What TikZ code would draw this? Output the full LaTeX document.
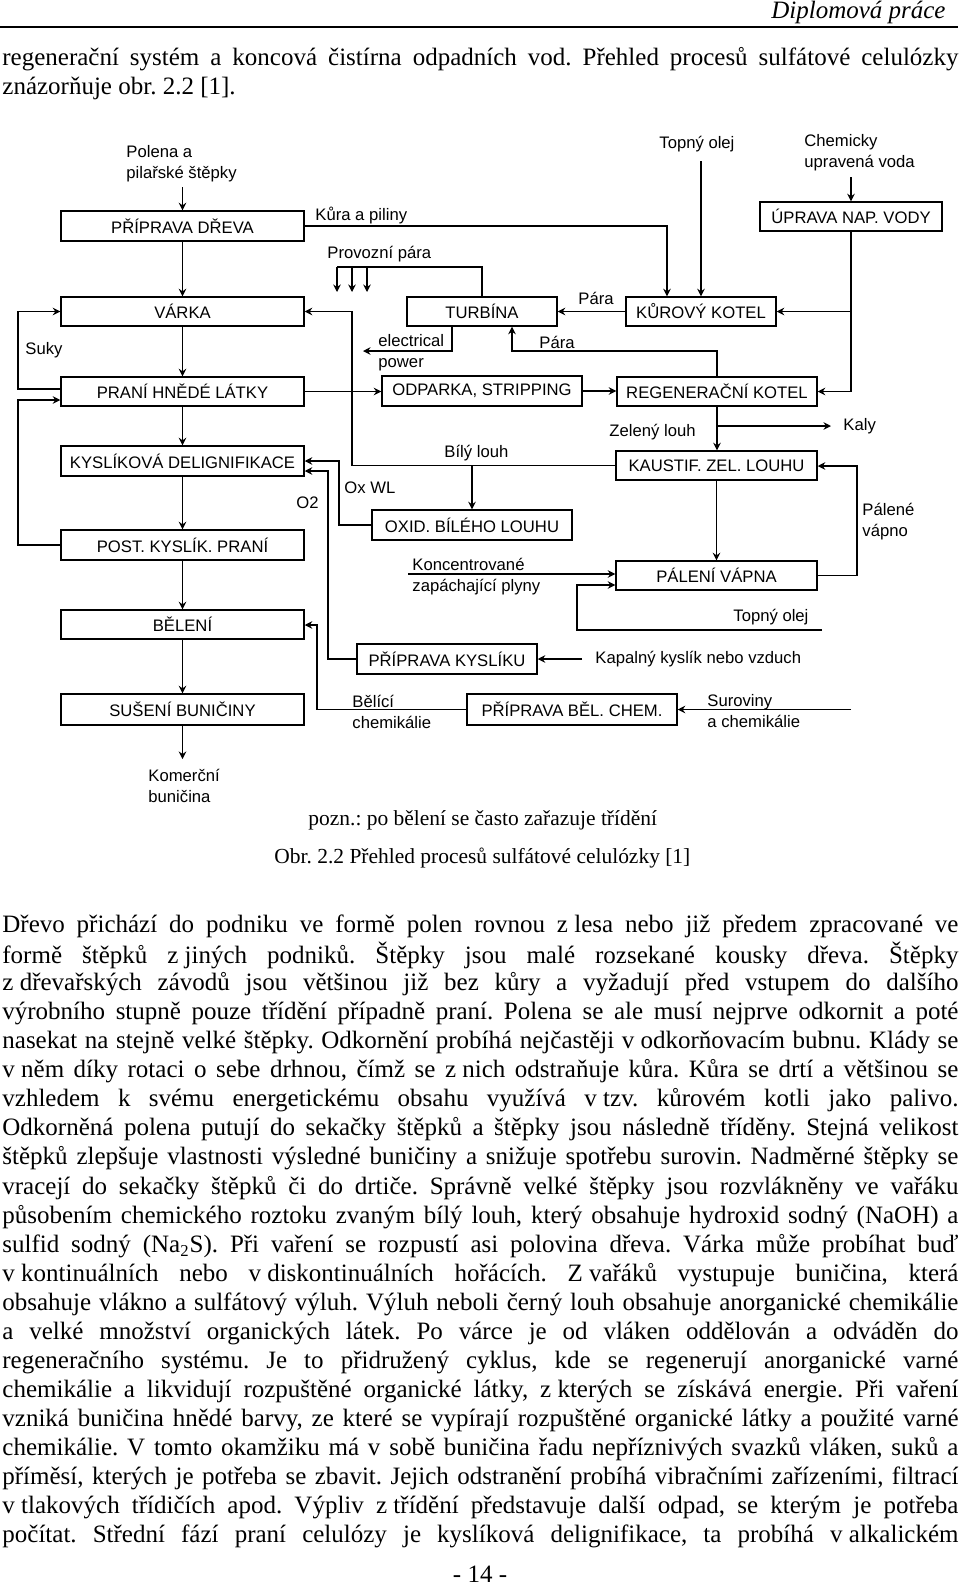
\documentclass[tikz,border=0pt]{standalone}
\usepackage{fontspec}
\setmainfont{Liberation Serif}
\newfontfamily\arialf{Liberation Sans}
\usetikzlibrary{arrows.meta,calc}
\newlength\lnw \setlength\lnw{458.9pt}
\newsavebox\lnbox
\newcommand\jl[1]{\sbox\lnbox{#1}\ifdim\wd\lnbox>\lnw\relax\resizebox{\lnw}{\height}{\usebox\lnbox}\else\makebox[\lnw][s]{#1}\fi}
\newcommand\zsp{\kern0.25em\relax}
\newcommand\dg{\arialf\fontsize{8}{10.1}\selectfont}
\newcommand\bd{\fontsize{12}{14}\selectfont\frenchspacing}
\newcommand\cp{\fontsize{10.3}{12}\selectfont\frenchspacing}
\newcommand\mkbox[6]{\node[bx, minimum width={(#4-#2)*0.48pt}, minimum height={(#5-#3)*0.48pt}] (#1) at ({(#2+#4)/2},{(#3+#5)/2}) {#6};}
\tikzset{
 bx/.style={draw, line width=0.7pt, inner sep=0pt, font=\dg},
 lb/.style={anchor=west, inner sep=0pt, font=\dg, align=left},
 bl/.style={anchor=west, inner sep=0pt, font=\bd},
 ln/.style={line width=0.7pt},
 arr/.style={line width=0.7pt, -{Stealth[length=3.6pt,width=3.6pt,inset=1.2pt]}},
}
\begin{document}
\frenchspacing
\begin{tikzpicture}[x=0.48pt,y=-0.48pt]
\fill[white] (0,0) rectangle (960,1592);
\useasboundingbox (0,0) rectangle (960,1592);

% header
\node[anchor=east, inner sep=0pt, font=\bd\itshape] (hdr) at (946,12) {Diplomová práce};
\draw[line width=0.75pt] (0,27) -- (958,27);

\node[bl] (t1) at (2,59) {\jl{regenerační systém a koncová čistírna odpadních vod. Přehled procesů sulfátové celulózky}};
\node[bl] (t2) at (2,88) {znázorňuje obr. 2.2 [1].};

% boxes
\mkbox{prep}{61}{211}{304}{241}{PŘÍPRAVA DŘEVA}
\mkbox{varka}{61}{297}{304}{326}{VÁRKA}
\mkbox{prani}{61}{377}{304}{406}{PRANÍ HNĚDÉ LÁTKY}
\mkbox{kysl}{61}{446}{304}{476}{KYSLÍKOVÁ DELIGNIFIKACE}
\mkbox{post}{61}{530}{304}{560}{POST. KYSLÍK. PRANÍ}
\mkbox{beleni}{61}{610}{304}{639}{BĚLENÍ}
\mkbox{suseni}{61}{694}{304}{725}{SUŠENÍ BUNIČINY}
\mkbox{turb}{407}{297}{557}{326}{TURBÍNA}
\mkbox{odp}{382}{376}{582}{406}{ODPARKA, STRIPPING}
\mkbox{oxid}{372}{510}{572}{540}{OXID. BÍLÉHO LOUHU}
\mkbox{kyslik}{357}{644}{537}{674}{PŘÍPRAVA KYSLÍKU}
\mkbox{belchem}{467}{694}{677}{725}{PŘÍPRAVA BĚL. CHEM.}
\mkbox{kur}{626}{297}{776}{326}{KŮROVÝ KOTEL}
\mkbox{upr}{760}{202}{942}{231}{ÚPRAVA NAP. VODY}
\mkbox{regen}{617}{377}{817}{406}{REGENERAČNÍ KOTEL}
\mkbox{kaus}{616}{451}{817}{480}{KAUSTIF. ZEL. LOUHU}
\mkbox{pal}{616}{561}{817}{590}{PÁLENÍ VÁPNA}

% labels
\node[lb] (polena) at (126,164) {Polena a\\pilařské štěpky};
\node[lb] (kura) at (315,216) {Kůra a piliny};
\node[lb] (provoz) at (327,254) {Provozní pára};
\node[lb] (topny) at (659,144) {Topný olej};
\node[lb] (chem) at (804,153) {Chemicky\\upravená voda};
\node[lb] (para1) at (578,298) {Pára};
\node[lb] (para2) at (539,342) {Pára};
\node[lb] (suky) at (25,350) {Suky};
\node[lb] (elec) at (378,353) {electrical\\power};
\node[lb] (bily) at (444,453) {Bílý louh};
\node[lb] (zel) at (609,432) {Zelený louh};
\node[lb] (kaly) at (843,426) {Kaly};
\node[lb] (oxwl) at (344,488) {Ox WL};
\node[lb] (otwo) at (296,503) {O2};
\node[lb] (palv) at (862,522) {Pálené\\vápno};
\node[lb] (konc) at (412,577) {Koncentrované\\zapáchající plyny};
\node[lb] (topny2) at (733,617) {Topný olej};
\node[lb] (kap) at (595,659) {Kapalný kyslík nebo vzduch};
\node[lb] (belici) at (352,711.5) {Bělící\\chemikálie};
\node[lb] (surov) at (707,711.5) {Suroviny\\a chemikálie};
\node[lb] (komer) at (148,785.5) {Komerční\\buničina};

% connectors
\coordinate (c-pol) at (183,187);
\draw[arr] (prep.north |- c-pol) -- (prep.north);
\draw[arr] (prep.south) -- (varka.north);
\draw[arr] (varka.south) -- (prani.north);
\draw[arr] (prani.south) -- (kysl.north);
\draw[arr] (kysl.south) -- (post.north);
\draw[arr] (post.south) -- (beleni.north);
\draw[arr] (beleni.south) -- (suseni.north);
\coordinate (c-kom) at (182.5,759);
\draw[arr] (suseni.south) -- (c-kom);
\draw[arr] (prep.east) -| ([xshift=-34*0.48pt]kur.north);
\coordinate (c-top) at (701,161);
\draw[arr] (c-top) -- (kur.north);
\coordinate (c-chem) at (851,177);
\draw[arr] (c-chem) -- (upr.north);
\draw[arr] (upr.south) |- (kur.east);
\draw[arr] (upr.south) |- (regen.east);
\draw[arr] (kur.west) -- (turb.east);
\coordinate (c-p2) at (512,351);
\draw[arr] (regen.north) |- (c-p2) -- (c-p2 |- turb.south);
\coordinate (c-pp) at (337,267);
\draw[ln] (turb.north) |- (c-pp);
\foreach \xx/\nm in {337/a,352/b,367/c} {
  \coordinate (pp\nm) at (\xx,267);
  \coordinate (pq\nm) at (\xx,292);
  \draw[arr] (pp\nm) -- (pq\nm);
}
\coordinate (c-el) at (363,351);
\draw[arr] ([xshift=-30*0.48pt]turb.south) |- (c-el);
\draw[arr] (prani.east) -- (prani.east -| odp.west);
\draw[arr] (odp.east) -- (odp.east -| regen.west);
\coordinate (c-s1) at (18,389);
\coordinate (c-s2) at (18,400);
\draw[arr] (prani.west |- c-s1) -- (c-s1) |- (varka.west);
\draw[arr] (post.west) -| (c-s2) -- (prani.west |- c-s2);
\coordinate (c-bl) at (352,466);
\draw[arr] (kaus.west) -- (kaus.west -| c-bl) |- (varka.east);
\draw[arr] (oxid.north |- kaus.west) -- (oxid.north);
\coordinate (c-ox) at (339,461);
\draw[arr] (oxid.west) -| (c-ox) -- (kysl.east |- c-ox);
\coordinate (c-o2) at (328,471);
\draw[arr] (kyslik.west) -| (c-o2) -- (kysl.east |- c-o2);
\coordinate (c-kap) at (582,659);
\draw[arr] (c-kap) -- (kyslik.east);
\coordinate (c-bc) at (317,625);
\draw[arr] (belchem.west) -| (c-bc) -- (beleni.east |- c-bc);
\coordinate (c-sr) at (851,709.5);
\draw[arr] (c-sr) -- (belchem.east);
\draw[arr] (regen.south) -- (regen.south |- kaus.north);
\coordinate (c-ky1) at (717,426);
\coordinate (c-ky2) at (831,426);
\draw[arr] (c-ky1) -- (c-ky2);
\draw[arr] (kaus.south) -- (pal.north);
\coordinate (c-pv) at (857,466);
\draw[arr] (pal.east) -| (c-pv) -- (kaus.east |- c-pv);
\coordinate (c-ko) at (408,574);
\draw[arr] (c-ko) -- (pal.west |- c-ko);
\coordinate (c-t1) at (822,630);
\coordinate (c-t2) at (577,630);
\coordinate (c-t3) at (577,585);
\draw[arr] (c-t1) -- (c-t2) -- (c-t3) -- (pal.west |- c-t3);

% caption
\node[anchor=west, inner sep=0pt, font=\cp] (pozn) at (308,820) {pozn.: po bělení se často zařazuje třídění};
\node[anchor=west, inner sep=0pt, font=\cp] (cap) at (274,858) {Obr. 2.2 Přehled procesů sulfátové celulózky [1]};

% body text
\node[bl] (p1) at (2,926) {\jl{Dřevo přichází do podniku ve formě polen rovnou z\zsp lesa nebo již předem zpracované ve}};
\node[bl] (p2) at (2,955.1) {\jl{formě štěpků z\zsp jiných podniků. Štěpky jsou malé rozsekané kousky dřeva. Štěpky}};
\node[bl] (p3) at (2,984.2) {\jl{z\zsp dřevařských závodů jsou většinou již bez kůry a vyžadují před vstupem do dalšího}};
\node[bl] (p4) at (2,1013.2) {\jl{výrobního stupně pouze třídění případně praní. Polena se ale musí nejprve odkornit a poté}};
\node[bl] (p5) at (2,1042.3) {\jl{nasekat na stejně velké štěpky. Odkornění probíhá nejčastěji v\zsp odkorňovacím bubnu. Klády se}};
\node[bl] (p6) at (2,1071.4) {\jl{v\zsp něm díky rotaci o sebe drhnou, čímž se z\zsp nich odstraňuje kůra. Kůra se drtí a většinou se}};
\node[bl] (p7) at (2,1100.5) {\jl{vzhledem k svému energetickému obsahu využívá v\zsp tzv. kůrovém kotli jako palivo.}};
\node[bl] (p8) at (2,1129.6) {\jl{Odkorněná polena putují do sekačky štěpků a štěpky jsou následně tříděny. Stejná velikost}};
\node[bl] (p9) at (2,1158.6) {\jl{štěpků zlepšuje vlastnosti výsledné buničiny a snižuje spotřebu surovin. Nadměrné štěpky se}};
\node[bl] (p10) at (2,1187.7) {\jl{vracejí do sekačky štěpků či do drtiče. Správně velké štěpky jsou rozvlákněny ve vařáku}};
\node[bl] (p11) at (2,1216.8) {\jl{působením chemického roztoku zvaným bílý louh, který obsahuje hydroxid sodný (NaOH) a}};
\node[bl] (p12) at (2,1245.9) {\jl{sulfid sodný (Na\textsubscript{2}S). Při vaření se rozpustí asi polovina dřeva. Várka může probíhat buď}};
\node[bl] (p13) at (2,1275) {\jl{v\zsp kontinuálních nebo v\zsp diskontinuálních hořácích. Z\zsp vařáků vystupuje buničina, která}};
\node[bl] (p14) at (2,1304) {\jl{obsahuje vlákno a sulfátový výluh. Výluh neboli černý louh obsahuje anorganické chemikálie}};
\node[bl] (p15) at (2,1333.1) {\jl{a velké množství organických látek. Po várce je od vláken oddělován a odváděn do}};
\node[bl] (p16) at (2,1362.2) {\jl{regeneračního systému. Je to přidružený cyklus, kde se regenerují anorganické varné}};
\node[bl] (p17) at (2,1391.3) {\jl{chemikálie a likvidují rozpuštěné organické látky, z\zsp kterých se získává energie. Při vaření}};
\node[bl] (p18) at (2,1420.4) {\jl{vzniká buničina hnědé barvy, ze které se vypírají rozpuštěné organické látky a použité varné}};
\node[bl] (p19) at (2,1449.4) {\jl{chemikálie. V tomto okamžiku má v sobě buničina řadu nepříznivých svazků vláken, suků a}};
\node[bl] (p20) at (2,1478.5) {\jl{příměsí, kterých je potřeba se zbavit. Jejich odstranění probíhá vibračními zařízeními, filtrací}};
\node[bl] (p21) at (2,1507.6) {\jl{v\zsp tlakových třídičích apod. Výpliv z\zsp třídění představuje další odpad, se kterým je potřeba}};
\node[bl] (p22) at (2,1536.7) {\jl{počítat. Střední fází praní celulózy je kyslíková delignifikace, ta probíhá v\zsp alkalickém}};

\node[font=\bd, inner sep=0pt] (pg) at (480,1574) {- 14 -};
\end{tikzpicture}
\end{document}
